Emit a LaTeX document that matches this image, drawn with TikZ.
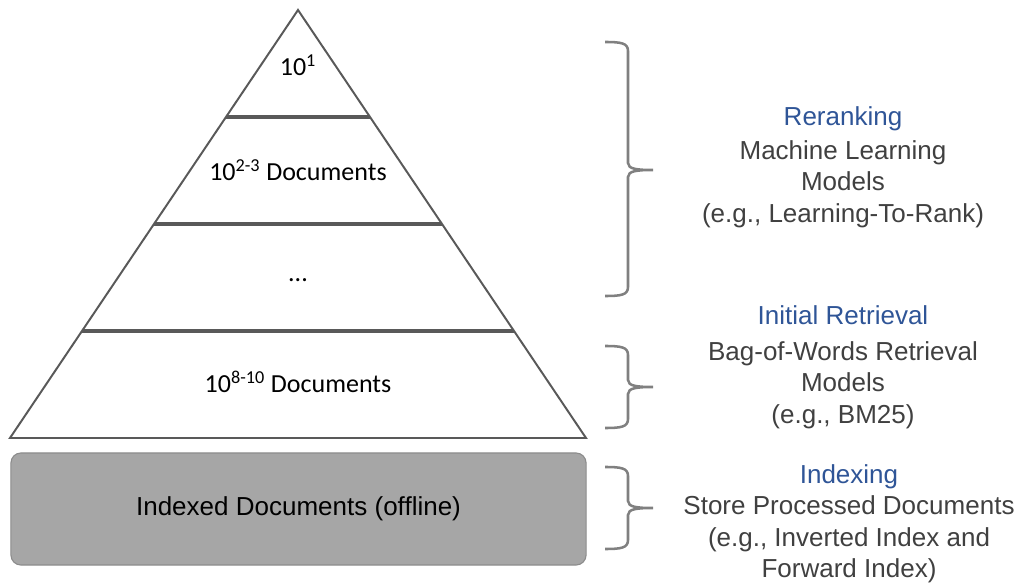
\documentclass[tikz,border=0pt]{standalone}
\usepackage{fontspec}
\setmainfont{Liberation Sans}
\newfontfamily\calibri{Carlito}
\usepackage{xcolor}
\usepackage{tikz}
\usetikzlibrary{calc}
\usetikzlibrary{positioning}
\definecolor{pyrline}{HTML}{595959}
\definecolor{bracegray}{HTML}{808080}
\definecolor{stageblue}{HTML}{2F5597}
\definecolor{txtgray}{HTML}{404040}
\definecolor{boxfill}{HTML}{A6A6A6}
\definecolor{boxedge}{HTML}{8C8C8C}

\begin{document}
\begin{tikzpicture}[x=0.025cm,y=-0.025cm,
	pyr/.style={draw=pyrline,line width=1.4pt},
	layer/.style={draw=pyrline,line width=2.3pt},
	lvl/.style={font=\calibri\fontsize{18.5}{22}\selectfont,text=black},
	bracket/.style={draw=bracegray,line width=1.8pt},
	stage/.style={font=\fontsize{18.5}{22.4}\selectfont,text=txtgray,align=center},
	idxbox/.style={draw=boxedge,fill=boxfill,rounded corners=0.25cm,line width=0.8pt,
		minimum width=14.375cm,minimum height=2.8cm,font=\fontsize{18.5}{22}\selectfont}]
	\useasboundingbox (0,0) rectangle (1019,583);
	% pyramid
	\coordinate (apex) at (298,10);
	\coordinate (bl) at (10,438);
	\coordinate (br) at (586,438);
	\draw[pyr] (apex) -- (br) -- (bl) -- cycle;
	\foreach \f in {0.25,0.5,0.75}
		\draw[layer] ($(apex)!\f!(bl)$) -- ($(apex)!\f!(br)$);
	\node[lvl] (top) at (298,65) {10\textsuperscript{1}};
	\node[lvl] (second) at (298,170) {10\textsuperscript{2-3} Documents};
	\node[lvl] (dots) at (298,280) {...};
	\node[lvl] (bottom) at (298,382) {10\textsuperscript{8-10} Documents};
	% index box
	\node[idxbox] (idx) at (298.5,509) {Indexed Documents (offline)};
	% braces
	\foreach \t/\m/\b in {42/170/296, 346/387/428, 467/508/549}
		\draw[bracket] (605,\t) .. controls (621,\t) and (628,\t+1) .. (628,\t+9)
			-- (628,\m-7) .. controls (628,\m-1) and (637,\m) .. (653,\m)
			.. controls (637,\m) and (628,\m+1) .. (628,\m+7)
			-- (628,\b-9) .. controls (628,\b-1) and (621,\b) .. (605,\b);
	% stage texts
	\node[stage] (rerank) at (843,167) {\textcolor{stageblue}{Reranking}\\[2pt]
		Machine Learning\\ Models\\ (e.g., Learning-To-Rank)};
	\node[stage] (initial) at (843,367) {\textcolor{stageblue}{Initial Retrieval}\\[3.5pt]
		Bag-of-Words Retrieval\\ Models\\ (e.g., BM25)};
	\node[stage] (indexing) at (849,524) {\textcolor{stageblue}{Indexing}\\
		Store Processed Documents\\ (e.g., Inverted Index and\\ Forward Index)};
\end{tikzpicture}
\end{document}
